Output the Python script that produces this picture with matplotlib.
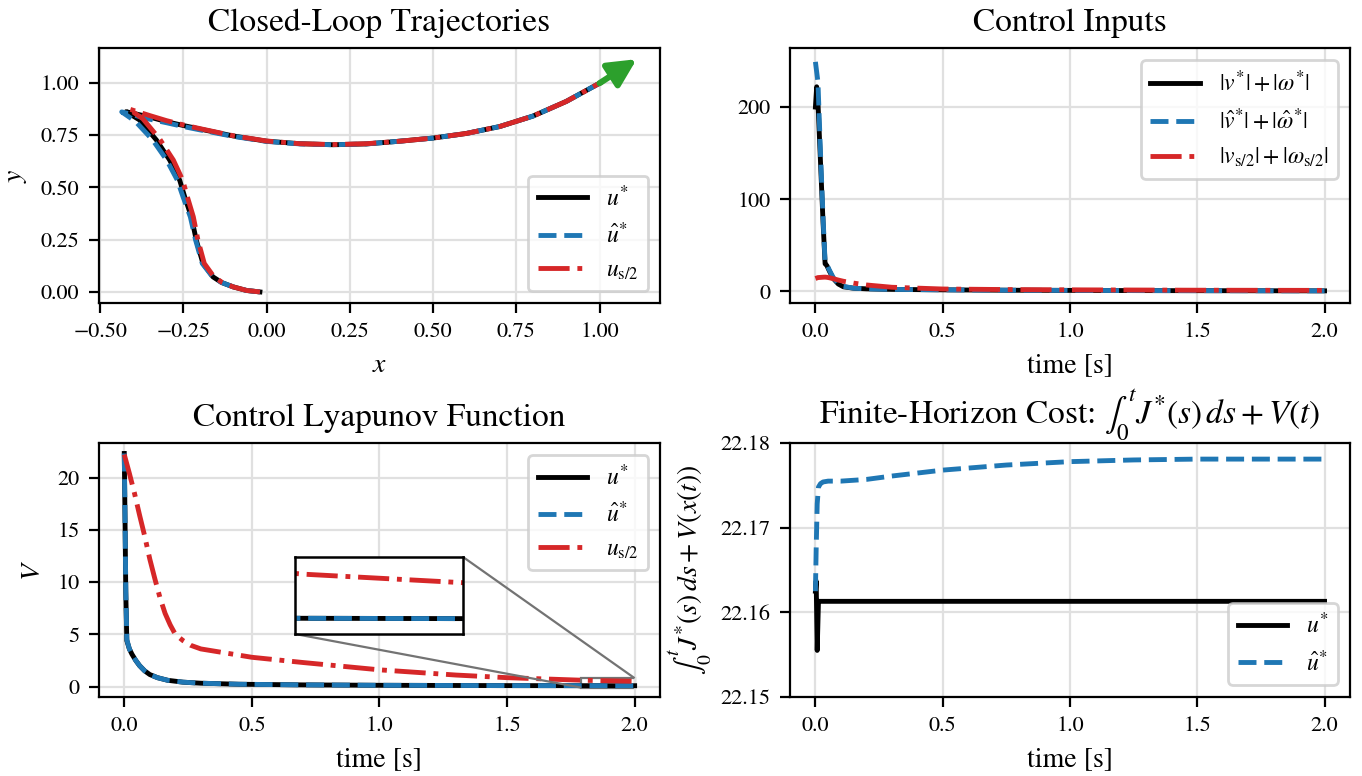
import matplotlib
matplotlib.use('Agg')
import numpy as np
import matplotlib.pyplot as plt
from mpl_toolkits.axes_grid1.inset_locator import mark_inset

# ---------------- data ----------------
# closed-loop xy trajectories
traj_x_star = [-0.02, -0.06, -0.10, -0.135, -0.161, -0.191, -0.211, -0.226, -0.246, -0.261,
               -0.291, -0.331, -0.382, -0.422, -0.40, -0.35, -0.30, -0.25, -0.20, -0.10,
               0.0, 0.10, 0.20, 0.30, 0.40, 0.50, 0.60, 0.70, 0.80, 0.90, 1.0]
traj_y_star = [0.0, 0.007, 0.024, 0.045, 0.072, 0.136, 0.247, 0.359, 0.455, 0.534,
               0.630, 0.726, 0.822, 0.861, 0.853, 0.835, 0.813, 0.795, 0.778, 0.745,
               0.72, 0.708, 0.703, 0.707, 0.72, 0.735, 0.757, 0.79, 0.84, 0.91, 0.997]
traj_x_hat = [-0.02, -0.06, -0.10, -0.135, -0.162, -0.193, -0.213, -0.229, -0.251, -0.268,
              -0.300, -0.342, -0.394, -0.435, -0.41, -0.36, -0.30, -0.25, -0.20, -0.10,
              0.0, 0.10, 0.20, 0.30, 0.40, 0.50, 0.60, 0.70, 0.80, 0.90, 1.0]
traj_y_hat = [0.0, 0.007, 0.024, 0.045, 0.072, 0.136, 0.247, 0.359, 0.455, 0.534,
              0.630, 0.726, 0.815, 0.860, 0.850, 0.828, 0.808, 0.790, 0.774, 0.743,
              0.719, 0.707, 0.703, 0.707, 0.72, 0.735, 0.757, 0.79, 0.84, 0.91, 0.997]
traj_x_half = [-0.02, -0.06, -0.10, -0.133, -0.158, -0.187, -0.206, -0.220, -0.238, -0.252,
               -0.280, -0.320, -0.372, -0.415, -0.39, -0.35, -0.30, -0.25, -0.20, -0.10,
               0.0, 0.10, 0.20, 0.30, 0.40, 0.50, 0.60, 0.70, 0.80, 0.90, 1.0]
traj_y_half = [0.0, 0.007, 0.024, 0.045, 0.072, 0.136, 0.247, 0.359, 0.455, 0.534,
               0.630, 0.728, 0.828, 0.875, 0.862, 0.842, 0.818, 0.798, 0.780, 0.746,
               0.721, 0.708, 0.704, 0.708, 0.72, 0.735, 0.757, 0.79, 0.84, 0.91, 0.997]
final_heading = 0.80   # rad, direction of the green arrow
arrow_len = 0.16

# control inputs
t_in = [0.0, 0.005, 0.01, 0.02, 0.03, 0.038, 0.045, 0.055, 0.07, 0.09, 0.11, 0.15,
        0.2, 0.3, 0.5, 0.75, 1.0, 1.25, 1.5, 1.75, 2.0]
in_star = [200, 222, 205, 140, 75, 30, 28, 22, 14, 8, 5, 3.5,
           2.8, 2.2, 1.7, 1.3, 1.1, 0.9, 0.8, 0.7, 0.6]
in_hat = [249, 238, 227, 150, 80, 32, 29, 23, 15, 8.5, 5.5, 3.5,
          2.8, 2.2, 1.7, 1.3, 1.1, 0.9, 0.8, 0.7, 0.6]
in_half = [14, 14.5, 15, 15.2, 15.4, 15.5, 15.3, 14.8, 13.8, 12.3, 11, 9,
           7, 4.5, 2.6, 2.0, 1.7, 1.5, 1.3, 1.2, 1.1]

# control Lyapunov function
t_v = [0.0, 0.003, 0.006, 0.01, 0.02, 0.03, 0.045, 0.06, 0.08, 0.1, 0.13, 0.17,
       0.23, 0.3, 0.45, 0.7, 1.0, 1.5, 2.0]
V_star = [22.3, 16, 9, 4.4, 3.6, 3.1, 2.5, 2.0, 1.5, 1.15, 0.85, 0.6,
          0.42, 0.32, 0.22, 0.16, 0.12, 0.09, 0.08]
V_hat = [22.3, 16.2, 9.3, 4.5, 3.6, 3.1, 2.5, 2.0, 1.5, 1.15, 0.85, 0.6,
         0.42, 0.32, 0.22, 0.16, 0.12, 0.09, 0.08]
t_vh = [0.0, 0.02, 0.04, 0.06, 0.08, 0.1, 0.12, 0.14, 0.16, 0.18, 0.2, 0.23,
        0.26, 0.3, 0.4, 0.5, 0.7, 1.0, 1.3, 1.5, 1.8, 2.0]
V_half = [22.2, 20.4, 18.5, 16.4, 14.4, 12.2, 10.3, 8.5, 7.0, 5.9, 5.0, 4.4,
          3.95, 3.6, 3.2, 2.8, 2.3, 1.6, 1.1, 0.85, 0.6, 0.5]

# finite-horizon cost
t_c = [0.0, 0.003, 0.007, 0.012, 0.02, 0.03, 0.05, 0.1, 0.2, 0.3, 0.5, 0.75,
       1.0, 1.25, 1.5, 1.75, 2.0]
cost_star = [22.1625, 22.1637, 22.1555, 22.1613, 22.1613, 22.1613, 22.1613, 22.1613,
             22.1613, 22.1613, 22.1613, 22.1613, 22.1613, 22.1613, 22.1613, 22.1613, 22.1613]
cost_hat = [22.1625, 22.1675, 22.1728, 22.1748, 22.1752, 22.1754, 22.1755, 22.1755,
            22.1757, 22.1761, 22.1768, 22.1774, 22.1778, 22.1780, 22.1781, 22.1781, 22.1781]

# ---------------- style ----------------
plt.rcParams['font.family'] = 'STIXGeneral'
plt.rcParams['mathtext.fontset'] = 'stix'
plt.rcParams['axes.titlesize'] = 12
plt.rcParams['axes.labelsize'] = 10
plt.rcParams['xtick.labelsize'] = 8
plt.rcParams['ytick.labelsize'] = 8
plt.rcParams['legend.fontsize'] = 8.5
plt.rcParams['axes.unicode_minus'] = True

BLACK = 'black'
BLUE = '#1f77b4'
RED = '#d62728'
GREEN = '#2ca02c'
LW = 1.75
GRID = dict(color='0.88', lw=0.8)

lab_star = r'$u^{*}$'
lab_hat = r'$\hat{u}^{*}$'
lab_half = r'$u_{\mathrm{s}/2}$'

fig = plt.figure(figsize=(6.81, 3.88), dpi=200)
ax_traj = fig.add_axes([0.0725, 0.6095, 0.4122, 0.3286])
ax_in = fig.add_axes([0.5800, 0.6095, 0.4112, 0.3286])
ax_v = fig.add_axes([0.0725, 0.1018, 0.4122, 0.3273])
ax_c = fig.add_axes([0.5800, 0.1018, 0.4112, 0.3273])

# Closed-loop trajectories
ax_traj.plot(traj_x_star, traj_y_star, color=BLACK, lw=LW, ls='-', label=lab_star)
ax_traj.plot(traj_x_hat, traj_y_hat, color=BLUE, lw=LW, ls='--', label=lab_hat)
ax_traj.plot(traj_x_half, traj_y_half, color=RED, lw=LW, ls='-.', label=lab_half)
x_end, y_end = traj_x_star[-1], traj_y_star[-1]
ax_traj.annotate('', xy=(x_end + arrow_len * np.cos(final_heading),
                         y_end + arrow_len * np.sin(final_heading)),
                 xytext=(x_end, y_end),
                 arrowprops=dict(arrowstyle='-|>', color=GREEN, lw=2.2,
                                 mutation_scale=21, shrinkA=0, shrinkB=0))
ax_traj.set_xlim(-0.504, 1.182)
ax_traj.set_ylim(-0.053, 1.165)
ax_traj.set_xticks([-0.5, -0.25, 0.0, 0.25, 0.5, 0.75, 1.0])
ax_traj.set_yticks([0.0, 0.25, 0.5, 0.75, 1.0])
ax_traj.set_xlabel(r'$x$')
ax_traj.set_ylabel(r'$y$')
ax_traj.set_title('Closed-Loop Trajectories')
ax_traj.grid(True, **GRID)
ax_traj.legend(loc='lower right', handlelength=2.1)

# Control inputs
ax_in.plot(t_in, in_star, color=BLACK, lw=LW, ls='-', label=r'$|v^{*}|+|\omega^{*}|$')
ax_in.plot(t_in, in_hat, color=BLUE, lw=LW, ls='--', label=r'$|\hat{v}^{*}|+|\hat{\omega}^{*}|$')
ax_in.plot(t_in, in_half, color=RED, lw=LW, ls='-.',
           label=r'$|v_{\mathrm{s}/2}|+|\omega_{\mathrm{s}/2}|$')
ax_in.set_xlim(-0.1, 2.1)
ax_in.set_ylim(-12.6, 264)
ax_in.set_yticks([0, 100, 200])
ax_in.set_xticks([0.0, 0.5, 1.0, 1.5, 2.0])
ax_in.set_xlabel('time [s]')
ax_in.set_title('Control Inputs')
ax_in.grid(True, **GRID)
ax_in.legend(loc='upper right', handlelength=2.1)

# Control Lyapunov function
ax_v.plot(t_v, V_star, color=BLACK, lw=LW, ls='-', label=lab_star)
ax_v.plot(t_v, V_hat, color=BLUE, lw=LW, ls='--', label=lab_hat)
ax_v.plot(t_vh, V_half, color=RED, lw=LW, ls='-.', label=lab_half)
ax_v.set_xlim(-0.1, 2.1)
ax_v.set_ylim(-1.0, 23.3)
ax_v.set_xticks([0.0, 0.5, 1.0, 1.5, 2.0])
ax_v.set_yticks([0, 5, 10, 15, 20])
ax_v.set_xlabel('time [s]')
ax_v.set_ylabel(r'$V$')
ax_v.set_title('Control Lyapunov Function')
ax_v.grid(True, **GRID)
ax_v.legend(loc='upper right', handlelength=2.1)

axins = ax_v.inset_axes([0.350, 0.248, 0.299, 0.303])
axins.plot(t_v, V_star, color=BLACK, lw=LW, ls='-')
axins.plot(t_v, V_hat, color=BLUE, lw=LW, ls='--')
axins.plot(t_vh, V_half, color=RED, lw=LW, ls='-.')
axins.set_xlim(1.79, 2.0)
axins.set_ylim(-0.1, 0.8)
axins.set_xticks([])
axins.set_yticks([])
for sp in axins.spines.values():
    sp.set_linewidth(0.9)
mark_inset(ax_v, axins, loc1=1, loc2=3, fc='none', ec='0.45', lw=0.8)

# Finite-horizon cost
ax_c.plot(t_c, cost_star, color=BLACK, lw=LW, ls='-', label=lab_star)
ax_c.plot(t_c, cost_hat, color=BLUE, lw=LW, ls='--', label=lab_hat)
ax_c.set_xlim(-0.1, 2.1)
ax_c.set_ylim(22.15, 22.18)
ax_c.set_yticks([22.15, 22.16, 22.17, 22.18])
ax_c.set_xticks([0.0, 0.5, 1.0, 1.5, 2.0])
ax_c.ticklabel_format(axis='y', useOffset=False)
ax_c.set_xlabel('time [s]')
ax_c.set_ylabel(r'$\int_0^t J^{*}(s)\,ds + V(x(t))$', labelpad=2)
ax_c.set_title(r'Finite-Horizon Cost: $\int_0^t J^{*}(s)\,ds + V(t)$')
ax_c.grid(True, **GRID)
ax_c.legend(loc='lower right', handlelength=2.1)

fig.savefig('out.png', dpi=200)
